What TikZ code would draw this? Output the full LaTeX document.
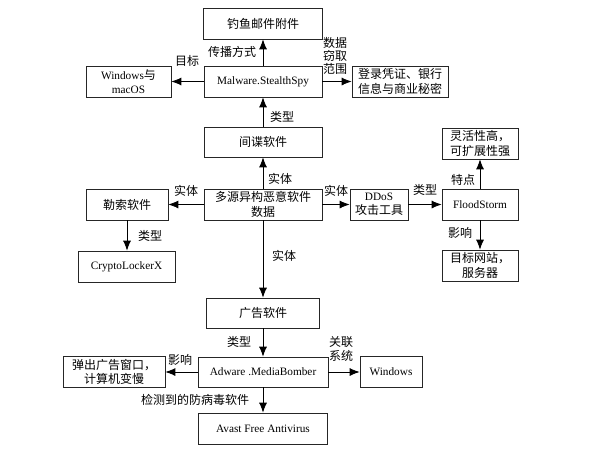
\documentclass[tikz,border=0pt]{standalone}
\usepackage{fontspec}
\setmainfont{Liberation Serif}[Scale=0.94]
\newfontfamily\cjk{Noto Sans CJK SC}
\usetikzlibrary{arrows.meta}
\newcommand{\zh}[1]{{\cjk #1}}
\newcommand{\fs}{\fontsize{12}{14.5}\selectfont}
\tikzset{
  box/.style={draw=black!85, line width=0.7pt, minimum height=31pt, inner sep=1pt, align=center, font=\fs},
  arr/.style={-{Latex[length=10pt,width=8pt]}, line width=0.8pt},
  lbl/.style={font=\fs, inner sep=0pt, align=center},
}
\begin{document}
\begin{tikzpicture}[x=1pt,y=-1pt]
\useasboundingbox (0,0) rectangle (600,450);
% nodes
\node[box, minimum width=119pt] (fish) at (263,23.5) {\zh{钓鱼邮件附件}};
\node[box, minimum width=118pt] (mal) at (263,81.5) {Malware.StealthSpy};
\node[box, minimum width=85pt] (win) at (128.5,81.5) {Windows\zh{与}\\macOS};
\node[box, minimum width=96pt] (login) at (400,81.5) {\zh{登录凭证、银行}\\\zh{信息与商业秘密}};
\node[box, minimum width=118pt, minimum height=30pt] (spy) at (263,142) {\zh{间谍软件}};
\node[box, minimum width=118pt] (src) at (263,204.5) {\zh{多源异构恶意软件}\\\zh{数据}};
\node[box, minimum width=82pt] (ransom) at (127,204.5) {\zh{勒索软件}};
\node[box, minimum width=58pt] (ddos) at (379,204.5) {DDoS\\\zh{攻击工具}};
\node[box, minimum width=76pt] (flood) at (480,204.5) {FloodStorm};
\node[box, minimum width=76pt] (flex) at (480,143.5) {\zh{灵活性高，}\\\zh{可扩展性强}};
\node[box, minimum width=76pt] (target) at (480,265.5) {\zh{目标网站，}\\\zh{服务器}};
\node[box, minimum width=97pt] (crypto) at (126.5,266.5) {CryptoLockerX};
\node[box, minimum width=113pt, minimum height=30pt] (adsw) at (263,313) {\zh{广告软件}};
\node[box, minimum width=130pt, minimum height=30pt] (adware) at (263,372) {Adware .MediaBomber};
\node[box, minimum width=102pt] (popup) at (114,372) {\zh{弹出广告窗口，}\\\zh{计算机变慢}};
\node[box, minimum width=62pt] (winb) at (391,372) {Windows};
\node[box, minimum width=129pt] (avast) at (263,428.5) {Avast Free Antivirus};
% connectors
\draw[arr] (mal) -- (fish);
\draw[arr] (mal) -- (win);
\draw[arr] (mal) -- (login);
\draw[arr] (spy) -- (mal);
\draw[arr] (src) -- (spy);
\draw[arr] (src) -- (ransom);
\draw[arr] (src) -- (ddos);
\draw[arr] (src) -- (adsw);
\draw[arr] (ddos) -- (flood);
\draw[arr] (flood) -- (flex);
\draw[arr] (flood) -- (target);
\draw[arr] (ransom.south) -- (ransom.south |- crypto.north);
\draw[arr] (adsw) -- (adware);
\draw[arr] (adware) -- (popup);
\draw[arr] (adware) -- (winb);
\draw[arr] (adware) -- (avast);
% labels
\node[lbl] (l1) at (232,52) {\zh{传播方式}};
\node[lbl] (l2) at (187,61) {\zh{目标}};
\node[lbl, font=\fontsize{12}{13}\selectfont] (l3) at (335,56) {\zh{数据}\\\zh{窃取}\\\zh{范围}};
\node[lbl] (l4) at (282,117) {\zh{类型}};
\node[lbl] (l5) at (280,179) {\zh{实体}};
\node[lbl] (l6) at (186,191) {\zh{实体}};
\node[lbl] (l7) at (336,191) {\zh{实体}};
\node[lbl] (l8) at (425,190) {\zh{类型}};
\node[lbl] (l9) at (463,180) {\zh{特点}};
\node[lbl] (l10) at (460,233) {\zh{影响}};
\node[lbl] (l11) at (150,236) {\zh{类型}};
\node[lbl] (l12) at (284,256) {\zh{实体}};
\node[lbl] (l13) at (239,342) {\zh{类型}};
\node[lbl] (l14) at (180,360) {\zh{影响}};
\node[lbl, font=\fontsize{12}{13.5}\selectfont] (l15) at (341,349) {\zh{关联}\\\zh{系统}};
\node[lbl] (l16) at (195,400) {\zh{检测到的防病毒软件}};
\end{tikzpicture}
\end{document}
